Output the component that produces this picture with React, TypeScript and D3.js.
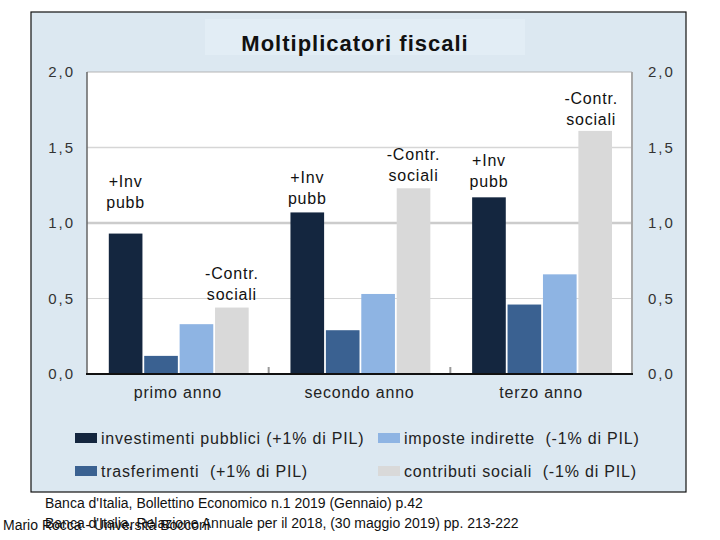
import React from "react";
import * as d3 from "d3";

const categories = ["primo anno", "secondo anno", "terzo anno"];
const seriesNames = [
  "investimenti pubblici (+1% di PIL)",
  "trasferimenti  (+1% di PIL)",
  "imposte indirette  (-1% di PIL)",
  "contributi sociali  (-1% di PIL)",
];
const investimenti = [0.93, 1.07, 1.17];
const trasferimenti = [0.12, 0.29, 0.46];
const imposte = [0.33, 0.53, 0.66];
const contributi = [0.44, 1.23, 1.61];
const yTicks = [0, 0.5, 1.0, 1.5, 2.0];
const seriesColors = ["#14263f", "#3a6191", "#8eb4e3", "#d9d9d9"];

// annotations: group index, series index, label lines, level (data units) of the lower line
const annotations = [
  { group: 0, series: 0, lines: ["+Inv", "pubb"], level: 1.13 },
  { group: 0, series: 3, lines: ["-Contr.", "sociali"], level: 0.52 },
  { group: 1, series: 0, lines: ["+Inv", "pubb"], level: 1.16 },
  { group: 1, series: 3, lines: ["-Contr.", "sociali"], level: 1.31 },
  { group: 2, series: 0, lines: ["+Inv", "pubb"], level: 1.27 },
  { group: 2, series: 3, lines: ["-Contr.", "sociali"], level: 1.68 },
];

const footer1 = "Banca d'Italia, Bollettino Economico n.1 2019 (Gennaio) p.42";
const footer2 = "Banca d'Italia, Relazione Annuale per il 2018, (30 maggio 2019) pp. 213-222";
const author = "Mario Rocca - Università Bocconi";
const title = "Moltiplicatori fiscali";

export default function App() {
  const values = [investimenti, trasferimenti, imposte, contributi];
  const left = 87, right = 632, top = 72, bottom = 374;
  const x = d3.scaleBand().domain(categories).range([left, right]).padding(0);
  const bw = x.bandwidth();
  const xi = d3
    .scaleBand()
    .domain(seriesNames)
    .range([bw * 0.12, bw * 0.89])
    .paddingInner(0.05);
  const y = d3.scaleLinear().domain([0, 2]).range([bottom, top]);
  const fmt = (v: number) => d3.format(".1f")(v).replace(".", ",");
  const font = "Liberation Sans, Arial, sans-serif";

  return (
    <svg
      width={720}
      height={540}
      style={{ position: "absolute", left: 0, top: 0, background: "#fff" }}
      fontFamily={font}
    >
      <rect x={31} y={12} width={655} height={480} fill="#dce8f1" stroke="#111" strokeWidth={1.2} />
      <rect x={205} y={19} width={320} height={36} fill="#e2edf5" />
      <text x={355} y={51} textAnchor="middle" fontSize={22} fontWeight="bold" letterSpacing={1} fill="#111">
        {title}
      </text>

      <rect x={left} y={top} width={right - left} height={bottom - top} fill="#fff" />
      {/* gridlines */}
      {yTicks
        .filter((t) => t > 0 && t < 2)
        .map((t) => (
          <line
            key={t}
            x1={left}
            x2={right}
            y1={y(t)}
            y2={y(t)}
            stroke={t === 1 ? "#cccccc" : "#d6d6d6"}
            strokeWidth={t === 1 ? 2.5 : t === 1.5 ? 1.5 : 1}
          />
        ))}
      {/* frame */}
      <line x1={left} x2={right} y1={top} y2={top} stroke="#b5b5b5" strokeWidth={1} />
      <line x1={left} x2={left} y1={top} y2={bottom} stroke="#666" strokeWidth={1.5} />
      <line x1={right} x2={right} y1={top} y2={bottom} stroke="#a8a8a8" strokeWidth={2} />

      {/* bars */}
      {categories.map((c, gi) => (
        <g key={c} transform={`translate(${x(c)},0)`}>
          {seriesNames.map((s, si) => (
            <rect
              key={s}
              x={xi(s)}
              y={y(values[si][gi])}
              width={xi.bandwidth()}
              height={bottom - y(values[si][gi])}
              fill={seriesColors[si]}
            />
          ))}
        </g>
      ))}

      {/* separator ticks */}
      {categories.slice(1).map((c) => (
        <line key={c} x1={x(c)} x2={x(c)} y1={bottom - 7} y2={bottom} stroke="#999" strokeWidth={2} />
      ))}
      <line x1={left - 1} x2={right + 1} y1={bottom} y2={bottom} stroke="#111" strokeWidth={2} />

      {/* y axis labels */}
      {yTicks.map((t) => (
        <g key={t}>
          <text x={75} y={y(t) + 5} textAnchor="end" fontSize={15} letterSpacing={2} fill="#333">
            {fmt(t)}
          </text>
          <text x={648} y={y(t) + 5} textAnchor="start" fontSize={15} letterSpacing={2} fill="#333">
            {fmt(t)}
          </text>
        </g>
      ))}

      {/* category labels */}
      {categories.map((c) => (
        <text
          key={c}
          x={(x(c) as number) + bw / 2}
          y={398}
          textAnchor="middle"
          fontSize={16}
          letterSpacing={0.8}
          fill="#222"
        >
          {c}
        </text>
      ))}

      {/* annotations */}
      {annotations.map((a, i) => {
        const cx =
          (x(categories[a.group]) as number) +
          (xi(seriesNames[a.series]) as number) +
          xi.bandwidth() / 2 -
          (a.group === 2 && a.series === 3 ? 4 : 0);
        const yb = y(a.level);
        return (
          <text key={i} textAnchor="middle" fontSize={16} letterSpacing={0.8} fill="#111">
            <tspan x={cx} y={yb - 21 + 5}>{a.lines[0]}</tspan>
            <tspan x={cx} y={yb + 5}>{a.lines[1]}</tspan>
          </text>
        );
      })}

      {/* legend */}
      {seriesNames.map((s, si) => {
        const col = si < 2 ? 0 : 1;
        const row = si % 2;
        const lx = col === 0 ? 75 : 378;
        const ly = row === 0 ? 438 : 471;
        return (
          <g key={s}>
            <rect x={lx} y={ly - 5} width={22} height={10} fill={seriesColors[si]} />
            <text
              x={lx + 26}
              y={ly + 6}
              fontSize={16}
              letterSpacing={0.8}
              fill="#222"
              style={{ whiteSpace: "pre" }}
            >
              {s}
            </text>
          </g>
        );
      })}

      {/* footer */}
      <text x={45} y={508} fontSize={14} fill="#111">{footer1}</text>
      <text x={45} y={528} fontSize={14} fill="#111">{footer2}</text>
      <text x={3} y={530} fontSize={14} fill="#111">{author}</text>
    </svg>
  );
}
